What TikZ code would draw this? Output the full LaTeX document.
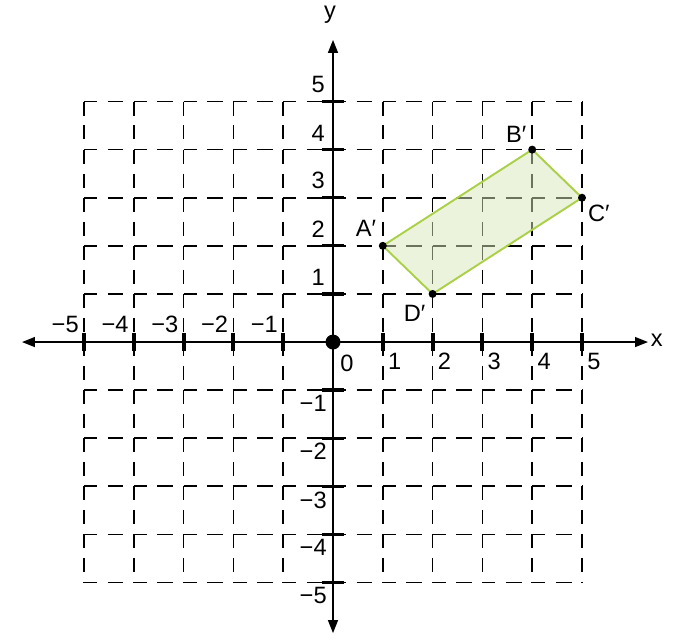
\documentclass[tikz,border=0pt]{standalone}
\usepackage{fontspec}
\setmainfont{Liberation Sans}
\usetikzlibrary{arrows.meta}
\definecolor{rectfill}{RGB}{217,231,187}
\definecolor{rectedge}{RGB}{170,208,72}
\tikzset{
  grd/.style={line width=1pt,dash pattern=on 7.5pt off 6pt on 9pt off 5.95pt},
  grdv/.style={line width=1pt,dash pattern=on 8pt off 5.7pt on 8pt off 5.78pt},
  ax/.style={line width=0.8pt,{Triangle[length=2.6mm,width=2mm]}-{Triangle[length=2.6mm,width=2mm]}},
  tkx/.style={line width=2.2pt},
  tky/.style={line width=1.9pt},
  num/.style={inner sep=0pt,font=\fontsize{13.5}{16}\selectfont},
  pt/.style={circle,fill=black,inner sep=0pt,minimum size=1.6mm},
  img/.style={draw=rectedge,fill=rectfill,fill opacity=0.5,line width=1.1pt,line join=round}
}
\begin{document}
\begin{tikzpicture}[x=1cm,y=0.966cm]
\useasboundingbox (-6.687,-6.257) rectangle (6.968,7.11);
% grid
\foreach \i in {-5,...,5} {
  \draw[grd] (-5,\i) -- (5,\i);
  \draw[grdv] (\i,5) -- (\i,-5);
}
% image A'B'C'D'
\coordinate (A) at (1,2); \coordinate (B) at (4,4);
\coordinate (C) at (5,3); \coordinate (D) at (2,1);
\draw[img] (A) -- (B) -- (C) -- (D) -- cycle;
% axes
\coordinate (xl) at (-6.245,0); \coordinate (xr) at (6.325,0);
\coordinate (yb) at (0,-6.05); \coordinate (yt) at (0,6.28);
\draw[ax] (xl) -- (xr); \draw[ax] (yb) -- (yt);
\node[num] (xlab) at (6.5,0.04) {x};
\node[num] (ylab) at (-0.06,6.8) {y};
% ticks and numbers
\foreach \i in {1,...,5} {
  \draw[tkx] (\i,-0.187) -- (\i,0.187); \draw[tkx] (-\i,-0.187) -- (-\i,0.187);
  \draw[tky] (-0.22,\i) -- (0.22,\i); \draw[tky] (-0.22,-\i) -- (0.22,-\i);
  \node[num,anchor=north west] (xp\i) at (\i+0.1,-0.23) {\i};
  \node[num,anchor=south east] (xm\i) at (-\i-0.1,0.19) {−\i};
  \node[num,anchor=south east] (yp\i) at (-0.16,\i+0.17) {\i};
  \node[num,anchor=north east] (ym\i) at (-0.12,-\i-0.1) {−\i};
}
\node[num,anchor=north west] (o) at (0.14,-0.27) {0};
\node[pt,minimum size=3mm] (O) at (0,0) {};
% vertices
\foreach \p in {A,B,C,D} \node[pt] (d\p) at (\p) {};
\node[num] (lA) at (0.66,2.37) {A′};
\node[num] (lB) at (3.68,4.31) {B′};
\node[num] (lC) at (5.34,2.67) {C′};
\node[num] (lD) at (1.64,0.6) {D′};
\end{tikzpicture}
\end{document}
